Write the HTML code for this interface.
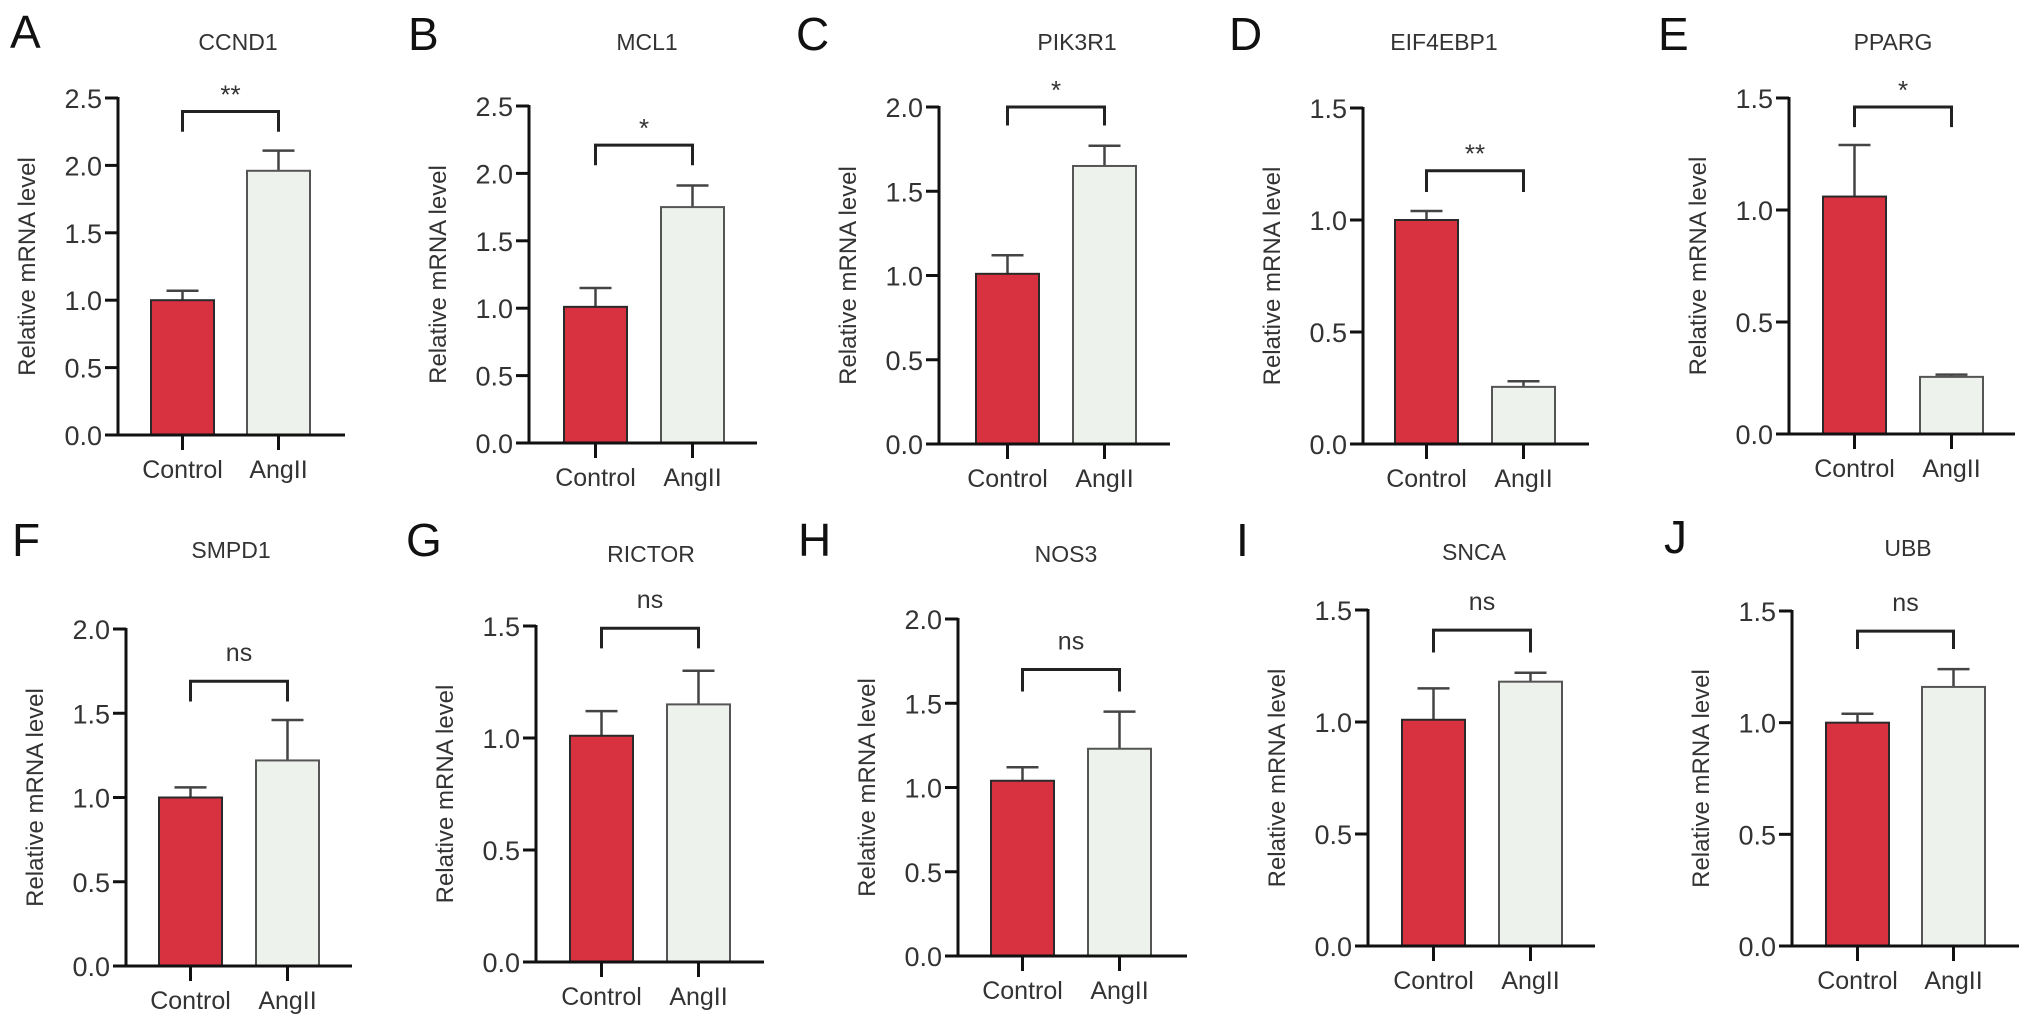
<!DOCTYPE html>
<html><head><meta charset="utf-8"><style>
html,body{margin:0;padding:0;background:#fff;}
svg{display:block;font-family:"Liberation Sans",Arial,sans-serif;}
</style></head><body>
<svg id="fig" width="2032" height="1026" viewBox="0 0 2032 1026" xmlns="http://www.w3.org/2000/svg"></svg>
<script>
// ---- data ----
const panelLetters = ["A","B","C","D","E","F","G","H","I","J"];
const genes = ["CCND1","MCL1","PIK3R1","EIF4EBP1","PPARG","SMPD1","RICTOR","NOS3","SNCA","UBB"];
const categories = ["Control","AngII"];
const controlMeans = [1.0, 1.01, 1.01, 1.0, 1.06, 1.0, 1.01, 1.04, 1.01, 1.0];
const controlErrTop = [1.07, 1.15, 1.12, 1.04, 1.29, 1.06, 1.12, 1.12, 1.15, 1.04];
const angMeans = [1.96, 1.75, 1.65, 0.255, 0.255, 1.22, 1.15, 1.23, 1.18, 1.16];
const angErrTop = [2.11, 1.91, 1.77, 0.28, 0.265, 1.46, 1.30, 1.45, 1.22, 1.24];
const yMaxes = [2.5, 2.5, 2.0, 1.5, 1.5, 2.0, 1.5, 2.0, 1.5, 1.5];
const sigLabels = ["**","*","*","**","*","ns","ns","ns","ns","ns"];
const bracketTop = [2.40, 2.21, 2.0, 1.22, 1.46, 1.69, 1.49, 1.70, 1.41, 1.41];
const bracketEnd = [2.25, 2.06, 1.89, 1.125, 1.37, 1.57, 1.40, 1.57, 1.31, 1.33];

// ---- layout (pixel geometry, not data) ----
const layout = [
 {ax:118,top:98,bot:435,b1:151,b2:247,end:345,lx:10,ly:48,tx:238,ty:50},
 {ax:529,top:106,bot:443,b1:564,b2:661,end:757,lx:408,ly:50,tx:647,ty:50},
 {ax:939,top:107,bot:444,b1:976,b2:1073,end:1170,lx:796,ly:50,tx:1077,ty:50},
 {ax:1363,top:108,bot:444,b1:1395,b2:1492,end:1589,lx:1229,ly:50,tx:1444,ty:50},
 {ax:1789,top:98,bot:434,b1:1823,b2:1920,end:2015,lx:1658,ly:50,tx:1893,ty:50},
 {ax:126,top:629,bot:966,b1:159,b2:256,end:352,lx:12,ly:556,tx:231,ty:558},
 {ax:536,top:626,bot:962,b1:570,b2:667,end:764,lx:406,ly:556,tx:651,ty:562},
 {ax:958,top:619,bot:956,b1:991,b2:1088,end:1187,lx:798,ly:556,tx:1066,ty:562},
 {ax:1368,top:610,bot:946,b1:1402,b2:1499,end:1595,lx:1236,ly:556,tx:1474,ty:560},
 {ax:1792,top:611,bot:946,b1:1826,b2:1922,end:2019,lx:1664,ly:553,tx:1908,ty:556}
];
const BW = 63;
const NS = "http://www.w3.org/2000/svg";
const svg = document.getElementById('fig');
function mk(tag, attrs, parent, text){
  const e = document.createElementNS(NS, tag);
  for (const k in attrs) e.setAttribute(k, attrs[k]);
  if (text !== undefined) e.textContent = text;
  parent.appendChild(e);
  return e;
}
genes.forEach((g, i) => {
  const L = layout[i];
  const y = v => L.bot - (v / yMaxes[i]) * (L.bot - L.top);
  const grp = mk('g', {}, svg);
  
  
  const letter = mk('text', {x:L.lx, y:L.ly, 'font-size':46, fill:'#111'}, grp, panelLetters[i]);
  
  
  const title = mk('text', {x:L.tx, y:L.ty, 'font-size':23, fill:'#333', 'text-anchor':'middle'}, grp, g);
  
  
  // bars
  const vals = [controlMeans[i], angMeans[i]];
  const errs = [controlErrTop[i], angErrTop[i]];
  const xs = [L.b1, L.b2];
  const fills = ['#d83241', '#eef2ec'];
  const strokes = ['#2a2a2a', '#555'];
  vals.forEach((v, k) => {
    const cx = xs[k] + BW / 2;
    const eb = mk('line', {x1:cx, x2:cx, y1:y(v), y2:y(errs[k]), stroke:'#444', 'stroke-width':2.5}, grp);
    
    
    const cap = mk('line', {x1:cx-16, x2:cx+16, y1:y(errs[k]), y2:y(errs[k]), stroke:'#444', 'stroke-width':2.5}, grp);
    
    
    const r = mk('rect', {x:xs[k], y:y(v), width:BW, height:L.bot - y(v), fill:fills[k], stroke:strokes[k], 'stroke-width':2}, grp);
    
    
    const tk = mk('line', {x1:cx, x2:cx, y1:L.bot, y2:L.bot + 15, stroke:'#111', 'stroke-width':3}, grp);
    
    
    const xl = mk('text', {x:cx, y:L.bot + 43, 'font-size':25, fill:'#333', 'text-anchor':'middle'}, grp, categories[k]);
    
    
  });
  // axes
  const yAx = mk('line', {x1:L.ax, x2:L.ax, y1:L.top - 1, y2:L.bot + 1.5, stroke:'#111', 'stroke-width':3}, grp);
  
  
  const xAx = mk('line', {x1:L.ax - 13, x2:L.end, y1:L.bot, y2:L.bot, stroke:'#111', 'stroke-width':3}, grp);
  
  
  for (let t = 0; t <= yMaxes[i] + 1e-9; t += 0.5) {
    const ty = y(t);
    const tk = mk('line', {x1:L.ax - 13, x2:L.ax, y1:ty, y2:ty, stroke:'#111', 'stroke-width':3}, grp);
    
    
    const tl = mk('text', {x:L.ax - 16, y:ty + 10, 'font-size':27, fill:'#333', 'text-anchor':'end'}, grp, t.toFixed(1));
    
    
  }
  const ytx = L.ax - 83, yty = (L.top + L.bot) / 2;
  const yt = mk('text', {x:ytx, y:yty, 'font-size':24, fill:'#333', 'text-anchor':'middle', transform:`rotate(-90 ${ytx} ${yty})`}, grp, 'Relative mRNA level');
  
  
  // significance bracket
  const c1 = L.b1 + BW / 2, c2 = L.b2 + BW / 2;
  const br = mk('path', {d:`M${c1},${y(bracketEnd[i])} V${y(bracketTop[i])} H${c2} V${y(bracketEnd[i])}`, fill:'none', stroke:'#222', 'stroke-width':3}, grp);
  
  
  const isStar = sigLabels[i] !== 'ns';
  const sl = mk('text', {x:(c1 + c2) / 2, y:y(bracketTop[i]) - (isStar ? 8 : 20), 'font-size':isStar ? 26 : 25, fill:'#333', 'text-anchor':'middle'}, grp, sigLabels[i]);
  
  
});
</script>
</body></html>
